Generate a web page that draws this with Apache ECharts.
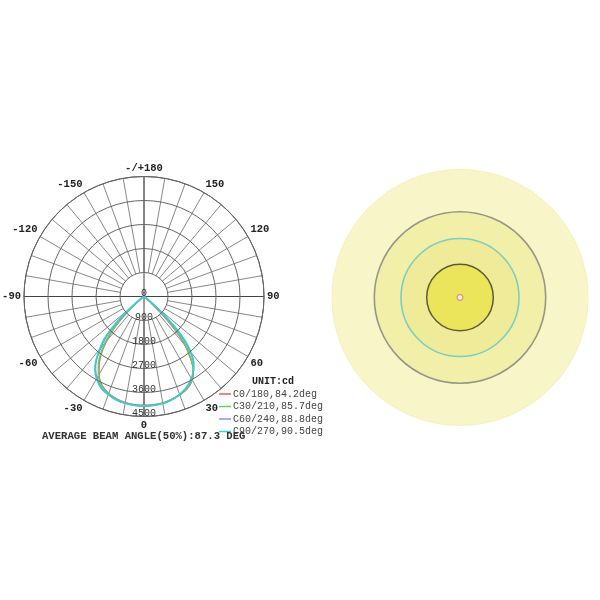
<!DOCTYPE html>
<html><head><meta charset="utf-8">
<script src="https://cdn.jsdelivr.net/npm/echarts@6/dist/echarts.min.js"></script>
<style>html,body{margin:0;padding:0;background:#fff}#c{width:600px;height:600px}</style>
</head><body><div id="c"></div>
<script>
// Gamma angles (deg): 0 = nadir (bottom), positive to the right
const angles = [-90,-80,-70,-60,-55,-50,-48,-46,-44,-42,-40,-37,-34,-30,-25,-20,-15,-10,-5,0,5,10,15,20,25,30,34,37,40,42,44,46,48,50,55,60,70,80,90];
// Luminous intensity (cd)
const c0_180  = [0,5,10,25,70,320,620,1050,1480,1850,2200,2650,3000,3380,3700,3870,3975,4040,4070,4080,4075,4050,3995,3920,3820,3620,3300,2900,2400,1950,1400,850,400,180,60,25,10,5,0];
const c30_210 = [0,5,12,30,90,380,720,1150,1580,1950,2280,2720,3060,3420,3720,3880,3985,4050,4080,4090,4085,4060,4000,3925,3810,3610,3300,2930,2470,2050,1500,950,480,220,70,30,12,5,0];
const c60_240 = [0,5,15,40,150,550,1000,1450,1900,2250,2530,2950,3250,3530,3780,3910,4010,4060,4090,4100,4095,4070,4010,3910,3770,3560,3330,3080,2700,2350,1900,1350,800,400,120,40,15,5,0];
const c90_270 = [0,5,15,50,200,650,1150,1600,2050,2350,2600,3000,3300,3560,3800,3920,4020,4070,4100,4110,4105,4080,4015,3905,3760,3550,3320,3100,2750,2450,2050,1500,950,500,150,50,15,5,0];
const seriesNames = ['C0/180,84.2deg','C30/210,85.7deg','C60/240,88.8deg','C90/270,90.5deg'];
const radiusMax = 4500, radiusStep = 900;
const angleLabelStep = 30, spokeStep = 10;
const unitText = 'UNIT:cd';
const beamText = 'AVERAGE BEAM ANGLE(50%):87.3 DEG';
// Right panel: ring radii (relative units) from outer to centre
const ringNames = ['outer','ring3','ring2','ring1','centre'];
const ringRadius = [128, 85.7, 59, 33.3, 2.8];

const curves = [c0_180, c30_210, c60_240, c90_270];
const colors = ['#f05a5a','#5cd65c','#8c8cf0','#2fd4d4'];
const ringStyles = [
  {color:'#f8f6c8', borderColor:'#f4f1b8', borderWidth:1},
  {color:'#f2efa8', borderColor:'#959588', borderWidth:1.6},
  {color:'#efeb98', borderColor:'#7ccfbf', borderWidth:1.6},
  {color:'#ebe55c', borderColor:'#5e5c34', borderWidth:1.5},
  {color:'#fffaf4', borderColor:'#e8907c', borderWidth:1.2}
];
const mono = 'Liberation Mono';
const C = [144, 296.5], R = 120;
const ringCenter = [460, 297.5], ringR = 128;

const lineSeries = curves.map((vals, i) => ({
  type:'line', name: seriesNames[i], coordinateSystem:'polar', polarIndex:0,
  data: vals.map((v, k) => [v, (angles[k] + 360) % 360]),
  showSymbol:false, smooth:0.3, lineStyle:{color:colors[i], width:1.5}, itemStyle:{color:colors[i]},
  z:5
}));
const ringPolars = ringRadius.map(() => ({center:ringCenter, radius:[0, ringR]}));
const ringAngleAxes = ringRadius.map((r, i) => ({polarIndex:3+i, type:'category', data:[''], show:false}));
const ringRadiusAxes = ringRadius.map((r, i) => ({polarIndex:3+i, type:'value', min:0, max:ringRadius[0], show:false}));
const ringSeries = ringRadius.map((r, i) => ({
  type:'bar', name: ringNames[i], coordinateSystem:'polar', polarIndex:3+i,
  data:[r], barWidth:'100%', itemStyle: ringStyles[i], z:2+i, silent:true
}));

const option = {
  animation:false,
  backgroundColor:'#fff',
  title:[
    {text: unitText, left:247, top:371, textStyle:{fontFamily:mono, fontSize:10, fontWeight:'bold', color:'#222'}},
    {text: beamText, left:37, top:426, textStyle:{fontFamily:mono, fontSize:10.6, fontWeight:'bold', color:'#333'}}
  ],
  legend:{
    data: seriesNames, orient:'vertical', left:219, top:388, itemGap:0.5, padding:0,
    icon:'rect', itemWidth:12, itemHeight:1.5,
    textStyle:{fontFamily:mono, fontSize:10, color:'#444', lineHeight:12, padding:[0,0,0,-3]}
  },
  polar:[
    {center:C, radius:[0,R]},
    {center:C, radius:[R*radiusStep/radiusMax, R]},
    {center:C, radius:[0,R]},
    ...ringPolars
  ],
  angleAxis:[
    {polarIndex:0, type:'value', min:0, max:360, interval:angleLabelStep, startAngle:270, clockwise:false,
     axisLine:{show:true, lineStyle:{color:'#555', width:1}}, axisTick:{show:false}, splitLine:{show:false},
     axisLabel:{show:true, margin:3, fontFamily:mono, fontSize:10.5, fontWeight:'bold', color:'#222',
       formatter: v => v === 180 ? '-/+180' : (v > 180 ? String(v - 360) : String(v))}},
    {polarIndex:1, type:'value', min:0, max:360, interval:spokeStep, startAngle:270, clockwise:false,
     axisLine:{show:false}, axisTick:{show:false}, axisLabel:{show:false},
     splitLine:{show:true, lineStyle:{color:'#6a6a6a', width:0.8}}},
    {polarIndex:2, type:'value', min:0, max:360, interval:90, startAngle:270, clockwise:false,
     axisLine:{show:false}, axisTick:{show:false}, axisLabel:{show:false},
     splitLine:{show:true, lineStyle:{color:'#444', width:1}}},
    ...ringAngleAxes
  ],
  radiusAxis:[
    {polarIndex:0, type:'value', min:0, max:radiusMax, interval:radiusStep,
     axisLine:{show:false}, axisTick:{show:false},
     splitLine:{show:true, lineStyle:{color:'#666', width:1}},
     axisLabel:{show:true, margin:0, align:'center', verticalAlign:'bottom', lineHeight:7,
       fontFamily:mono, fontSize:10, color:'#333', formatter: v => String(v)}, z:6},
    {polarIndex:1, type:'value', show:false, splitLine:{show:false}},
    {polarIndex:2, type:'value', show:false, splitLine:{show:false}},
    ...ringRadiusAxes
  ],
  series:[...ringSeries, ...lineSeries]
};
const chart = echarts.init(document.getElementById('c'), null, {renderer:'canvas'});
chart.setOption(option);
</script>
</body></html>
